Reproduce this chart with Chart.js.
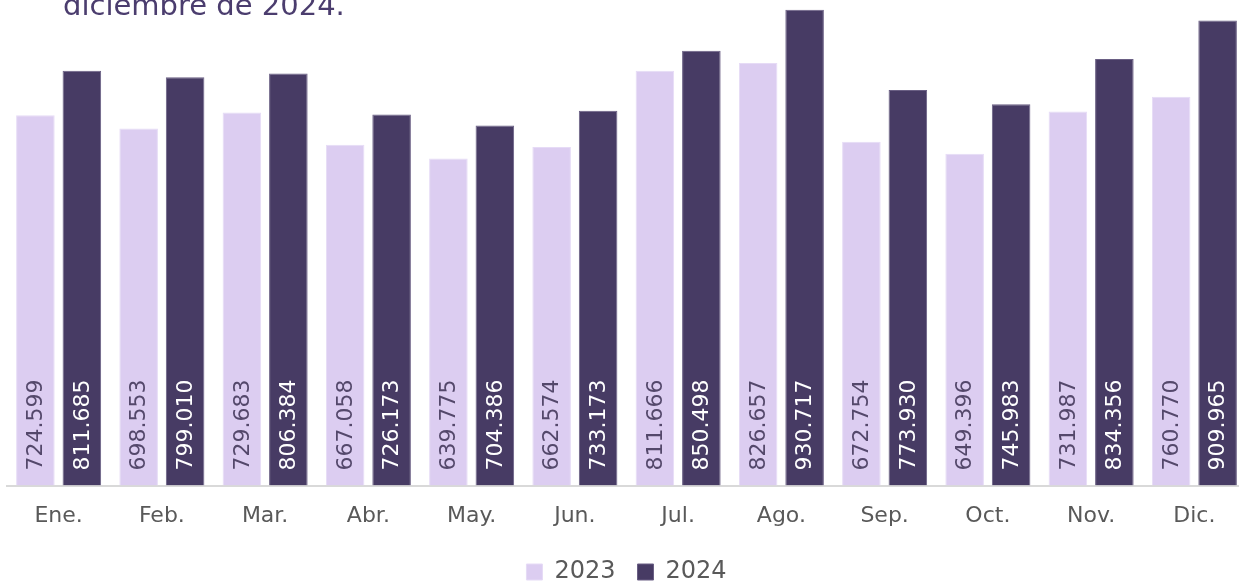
<!DOCTYPE html>
<html>
<head>
<meta charset="utf-8">
<script src="https://cdn.jsdelivr.net/npm/chart.js@4/dist/chart.umd.min.js"></script>
<style>
  html, body { margin: 0; padding: 0; background: #fff; overflow: hidden; }
  #wrap { position: relative; width: 1246px; height: 596px; }
  #titulo { position: absolute; left: 63px; top: -12px; margin: 0;
            font-family: "DejaVu Sans", sans-serif; font-size: 29px; font-weight: normal;
            color: #4b3d6e; white-space: nowrap; z-index: 2; }
</style>
</head>
<body>
<div id="wrap">
  <div id="titulo">diciembre de 2024.</div>
  <canvas id="myChart"></canvas>
</div>
<script>
var meses = ['Ene.', 'Feb.', 'Mar.', 'Abr.', 'May.', 'Jun.', 'Jul.', 'Ago.', 'Sep.', 'Oct.', 'Nov.', 'Dic.'];
var valores2023 = [724.599, 698.553, 729.683, 667.058, 639.775, 662.574, 811.666, 826.657, 672.754, 649.396, 731.987, 760.770];
var valores2024 = [811.685, 799.010, 806.384, 726.173, 704.386, 733.173, 850.498, 930.717, 773.930, 745.983, 834.356, 909.965];
var series = ['2023', '2024'];

// etiquetas verticales dentro de las barras
var etiquetasBarras = {
    id: 'etiquetasBarras',
    afterDatasetsDraw: function(chart) {
        var ctx = chart.ctx;
        var base = chart.scales.y.getPixelForValue(0);
        chart.data.datasets.forEach(function(ds, i) {
            var meta = chart.getDatasetMeta(i);
            meta.data.forEach(function(bar, j) {
                ctx.save();
                ctx.translate(bar.x, base - 15);
                ctx.rotate(-Math.PI / 2);
                ctx.font = '22px "DejaVu Sans"';
                ctx.fillStyle = i === 0 ? '#54486b' : '#ffffff';
                ctx.textAlign = 'left';
                ctx.textBaseline = 'middle';
                ctx.fillText(ds.data[j].toFixed(3), 0, 1);
                ctx.restore();
            });
        });
    }
};

window.onload = function() {
    var ctx = document.getElementById('myChart').getContext('2d');

    window.myBar = new Chart(ctx, {
        type: 'bar',
        data: {
            labels: meses,
            datasets: [
                { label: series[0], data: valores2023,
                  backgroundColor: '#dccdf1', borderColor: '#e6dbf6', borderWidth: 1 },
                { label: series[1], data: valores2024,
                  backgroundColor: '#473b64', borderColor: '#6a5f84', borderWidth: 1 }
            ]
        },
        plugins: [etiquetasBarras],
        options: {
            responsive: true,
            maintainAspectRatio: false,
            animation: false,
            datasets: { bar: { categoryPercentage: 0.9, barPercentage: 0.83 } },
            layout: { padding: { left: 7, right: 0, top: 0, bottom: 2 } },
            scales: {
                x: {
                    grid: { display: false },
                    border: { display: true, color: '#d9d9d9', width: 2 },
                    ticks: { color: '#595959', padding: 9, font: { family: 'DejaVu Sans', size: 22 } }
                },
                y: { display: false, min: 0, max: 950 }
            },
            plugins: {
                legend: {
                    position: 'bottom',
                    labels: {
                        color: '#595959',
                        boxWidth: 16, boxHeight: 16,
                        padding: 22,
                        font: { family: 'DejaVu Sans', size: 24 }
                    }
                },
                tooltip: { enabled: false }
            }
        }
    });
};
</script>
</body>
</html>
